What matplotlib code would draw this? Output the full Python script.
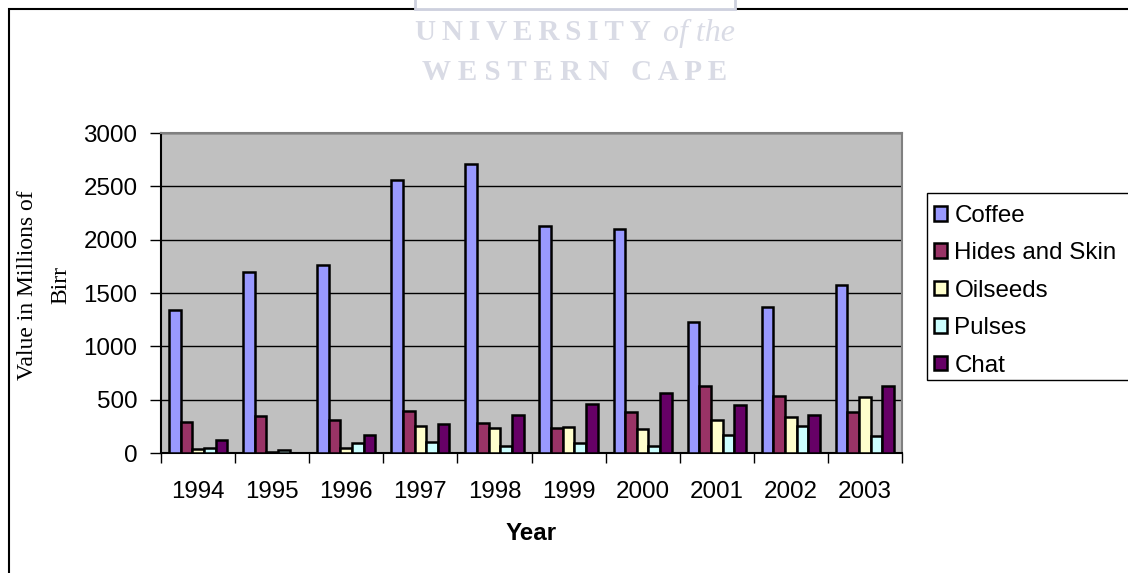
import numpy as np
import matplotlib
matplotlib.use('Agg')
from matplotlib import pyplot as plt
from matplotlib.patches import Rectangle

# Export values in millions of Birr
years = ['1994', '1995', '1996', '1997', '1998', '1999', '2000', '2001', '2002', '2003']
coffee = [1342, 1698, 1763, 2559, 2706, 2128, 2100, 1226, 1373, 1579]
hides_skin = [290, 349, 312, 390, 281, 234, 384, 630, 530, 384]
oilseeds = [40, 5, 43, 249, 231, 243, 224, 305, 334, 521]
pulses = [47, 28, 90, 99, 62, 93, 68, 168, 256, 156]
chat = [118, 3, 168, 271, 352, 461, 561, 452, 359, 624]

series_names = ['Coffee', 'Hides and Skin', 'Oilseeds', 'Pulses', 'Chat']
series_vals = [coffee, hides_skin, oilseeds, pulses, chat]
colors = ['#9999FF', '#993366', '#FFFFCC', '#CCFFFF', '#660066']

W, H = 1128, 573
sans = 'Liberation Sans'
serif = 'Liberation Serif'
fs = 17.4

fig = plt.figure(figsize=(W / 100, H / 100), dpi=100)
fig.patch.set_facecolor('white')

# chart area outline (only top and left are inside the picture)
fig.add_artist(Rectangle((9 / W, -0.1), 1.2, 1 - 9 / H + 0.1, transform=fig.transFigure,
                         fill=False, edgecolor='black', lw=1.5, zorder=1))
# bit of a box poking in from above
fig.add_artist(Rectangle((415 / W, 1 - 9 / H), 320 / W, 0.05, transform=fig.transFigure,
                         facecolor='white', edgecolor='#CDD0DE', lw=2, zorder=2))

# watermark
wm_color = '#D9DBE5'
fig.text(415 / W, 1 - 33 / H, 'U\u2009N\u2009I\u2009V\u2009E\u2009R\u2009S\u2009I\u2009T\u2009Y',
         family=[serif, 'DejaVu Serif'], fontsize=21, fontweight='bold', color=wm_color,
         ha='left', va='center')
fig.text(735 / W, 1 - 33 / H, 'of the', family=serif, fontsize=23, style='italic',
         color=wm_color, ha='right', va='center')
fig.text(575 / W, 1 - 72 / H, 'W E S T E R N   C A P E', family=serif, fontsize=21,
         fontweight='bold', color=wm_color, ha='center', va='center')

ax = fig.add_axes([161 / W, 1 - 453 / H, (902 - 161) / W, (453 - 133) / H])
ax.set_facecolor('#C0C0C0')

x = np.arange(len(years))
bw = 0.157
for i, (name, vals, c) in enumerate(zip(series_names, series_vals, colors)):
    ax.bar(x + (i - 2) * bw, vals, width=bw, color=c, edgecolor='black', linewidth=1.8,
           label=name, zorder=3)

ax.set_ylim(0, 3000)
ax.set_xlim(-0.5, len(years) - 0.5)
ax.set_yticks(np.arange(0, 3001, 500))
ax.yaxis.grid(True, color='black', lw=1, zorder=1)
ax.set_axisbelow(True)

ax.set_xticks(np.arange(-0.5, len(years), 1.0))
ax.set_xticklabels([])
ax.set_xticks(x, minor=True)
ax.set_xticklabels(years, minor=True)
ax.tick_params(axis='x', which='major', direction='out', length=7, width=1, color='black')
ax.tick_params(axis='x', which='minor', length=0, pad=20, labelsize=fs)
ax.tick_params(axis='y', direction='out', length=8, width=1, color='black', pad=9, labelsize=fs)
for lab in ax.get_xticklabels(minor=True) + ax.get_yticklabels():
    lab.set_family(sans)

ax.spines['left'].set_color('black')
ax.spines['bottom'].set_color('black')
ax.spines['top'].set_color('#808080')
ax.spines['right'].set_color('#808080')
for s in ax.spines.values():
    s.set_linewidth(1.5)

ax.set_xlabel('Year', family=sans, fontsize=fs, fontweight='bold', labelpad=14)
fig.text(44.5 / W, 1 - 285 / H, 'Value in Millions of\nBirr', family=serif, fontsize=17,
         rotation=90, ha='center', va='center', multialignment='center', linespacing=1.75)

# legend box runs past the right edge of the picture
fig.add_artist(Rectangle((927 / W, 1 - 380 / H), 0.3, (380 - 193) / H,
                         transform=fig.transFigure, facecolor='white', edgecolor='black',
                         lw=1, zorder=2))
leg = fig.legend(loc='upper left', bbox_to_anchor=(929 / W, 1 - 200 / H), frameon=False,
                 prop={'family': sans, 'size': fs}, handlelength=0.55, handleheight=0.55,
                 handletextpad=0.3, labelspacing=0.64, borderpad=0.2, borderaxespad=0)
leg.set_zorder(3)
for h in leg.legend_handles:
    h.set_linewidth(1.8)

fig.savefig('out.png', dpi=100)
